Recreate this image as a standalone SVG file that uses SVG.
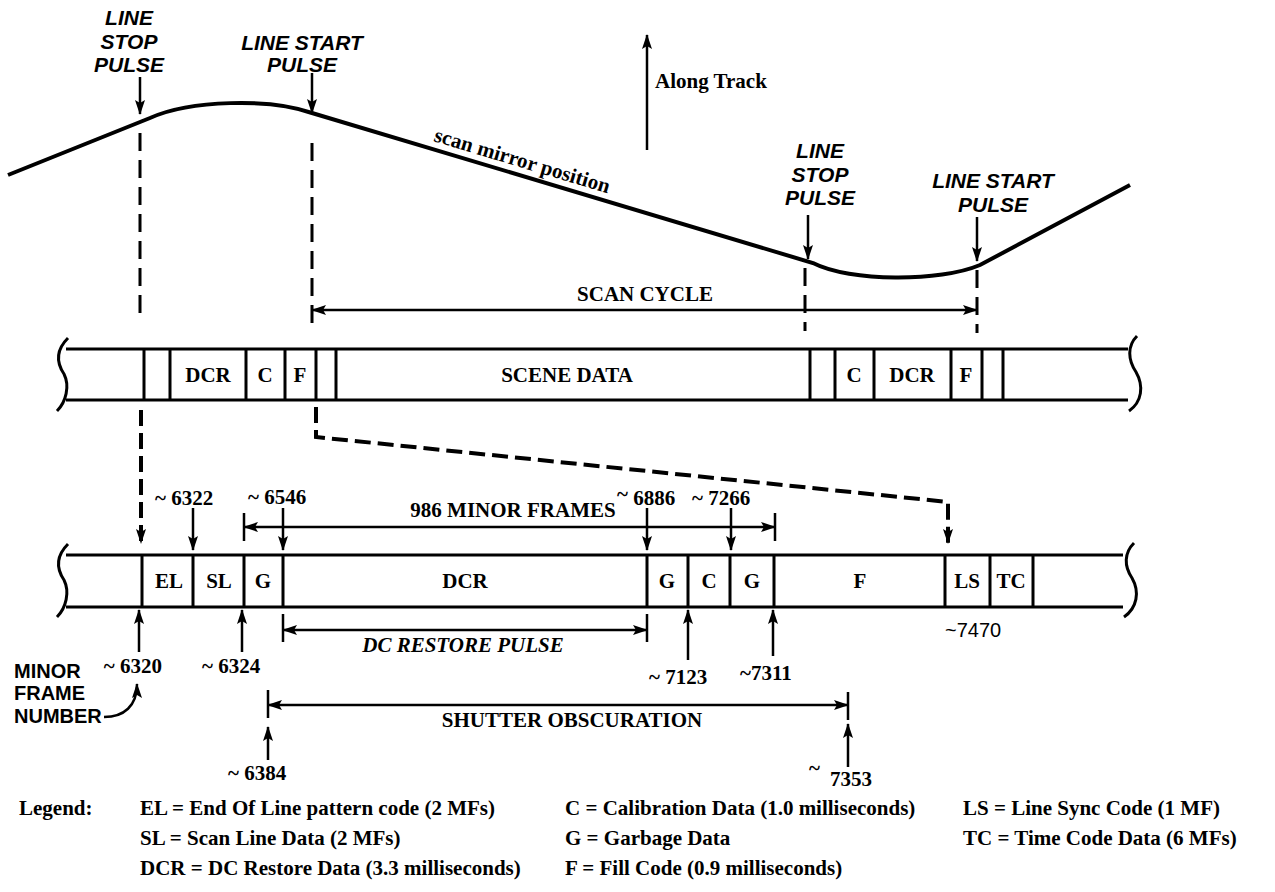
<svg xmlns="http://www.w3.org/2000/svg" width="1275" height="892" viewBox="0 0 1275 892">
<defs>
<style>
.s{stroke:#000;fill:none;stroke-width:3}
.c{stroke:#000;fill:none;stroke-width:4}
.a{stroke:#000;fill:none;stroke-width:2.5;marker-end:url(#ah)}
.b{stroke:#000;fill:none;stroke-width:2.5;marker-start:url(#ah);marker-end:url(#ah)}
.k{stroke:#000;fill:none;stroke-width:2.5}
.d{stroke:#000;fill:none;stroke-width:3;stroke-dasharray:18 9}
.dt{stroke:#000;fill:none;stroke-width:4;stroke-dasharray:16 7}
.t{font-family:"Liberation Serif","Times New Roman",serif;font-weight:bold;font-size:21px;fill:#000}
.lg{font-family:"Liberation Serif","Times New Roman",serif;font-weight:bold;font-size:21px;fill:#000}
.m{text-anchor:middle}
.e{text-anchor:end}
.h{font-family:"Liberation Sans",Arial,sans-serif;font-weight:bold;font-style:italic;font-size:21px;text-anchor:middle;fill:#000}
.n{font-family:"Liberation Sans",Arial,sans-serif;font-weight:bold;font-size:20px;fill:#000}
</style>
<marker id="ah" viewBox="0 0 15 10" refX="14" refY="5" markerWidth="15" markerHeight="10" markerUnits="userSpaceOnUse" orient="auto-start-reverse">
<path d="M0,0 L15,5 L0,10 L3,5 z" fill="#000"/>
</marker>
</defs>

<g id="mirror-curve">
<path class="c" d="M8,175 L150,118 C190,100 270,98 312,113 L813,263 C850,282 940,282 980,265 L1130,185"/>
<text class="t" transform="rotate(16.7 433 141)" x="433" y="141">scan mirror position</text>
</g>

<g id="along-track">
<line class="a" x1="647" y1="150" x2="647" y2="35"/>
<text class="t" x="655" y="88">Along Track</text>
</g>

<g id="line-stop-left">
<text class="h"><tspan x="129" y="25">LINE</tspan><tspan x="129" y="49">STOP</tspan><tspan x="129" y="72">PULSE</tspan></text>
<line class="a" x1="140" y1="77" x2="140" y2="114"/>
</g>
<g id="line-start-left">
<text class="h"><tspan x="302" y="50">LINE START</tspan><tspan x="302" y="72">PULSE</tspan></text>
<line class="a" x1="312" y1="73" x2="312" y2="113"/>
</g>
<g id="line-stop-right">
<text class="h"><tspan x="820" y="158">LINE</tspan><tspan x="820" y="182">STOP</tspan><tspan x="820" y="205">PULSE</tspan></text>
<line class="a" x1="808" y1="215" x2="808" y2="259"/>
</g>
<g id="line-start-right">
<text class="h"><tspan x="993" y="188">LINE START</tspan><tspan x="993" y="212">PULSE</tspan></text>
<line class="a" x1="977" y1="217" x2="977" y2="261"/>
</g>

<g id="strip1">
<path class="s" d="M66,349 H1128 M66,400 H1128"/>
<path class="s" d="M68,338 C56,350 56,362 64,374 C70,386 66,402 57,411"/>
<path class="s" d="M1137,336 C1127,346 1128,360 1136,372 C1144,386 1142,402 1129,411"/>
<path class="s" d="M144,349V400 M170,349V400 M246,349V400 M285,349V400 M316,349V400 M336,349V400 M810,349V400 M835,349V400 M874,349V400 M951,349V400 M982,349V400 M1003,349V400"/>
<g class="t m">
<text x="208" y="382">DCR</text>
<text x="265" y="382">C</text>
<text x="300" y="382">F</text>
<text x="567" y="382">SCENE DATA</text>
<text x="854" y="382">C</text>
<text x="912" y="382">DCR</text>
<text x="966" y="382">F</text>
</g>
</g>

<g id="strip2">
<path class="s" d="M66,555 H1123 M66,607 H1123"/>
<path class="s" d="M68,544 C56,556 56,568 64,580 C70,592 66,608 57,617"/>
<path class="s" d="M1134,543 C1124,553 1124,566 1132,578 C1140,592 1137,608 1124,617"/>
<path class="s" d="M142,555V607 M193,555V607 M244,555V607 M283,555V607 M647,555V607 M688,555V607 M730,555V607 M774,555V607 M945,555V607 M990,555V607 M1033,555V607"/>
<g class="t m">
<text x="169" y="588">EL</text>
<text x="219" y="588">SL</text>
<text x="263" y="588">G</text>
<text x="465" y="588">DCR</text>
<text x="667" y="588">G</text>
<text x="709" y="588">C</text>
<text x="752" y="588">G</text>
<text x="860" y="588">F</text>
<text x="967" y="588">LS</text>
<text x="1011" y="588">TC</text>
</g>
</g>

<g id="connectors">
<path class="d" d="M140,133 V318"/>
<path class="d" d="M312,143 V326"/>
<path class="d" d="M805,268 V331"/>
<path class="d" d="M977,270 V333"/>
<line class="b" x1="312" y1="310" x2="977" y2="310"/>
<path class="dt" d="M141,410 V543" marker-end="url(#ah)"/>
<path class="dt" d="M316,407 V437 L948,502 V543" marker-end="url(#ah)"/>

<line class="b" x1="244" y1="527" x2="775" y2="527"/>
<path class="k" d="M244,513 V541 M775,513 V541"/>
<line class="a" x1="193" y1="508" x2="193" y2="550"/>
<line class="a" x1="283" y1="508" x2="283" y2="550"/>
<line class="a" x1="647" y1="508" x2="647" y2="550"/>
<line class="a" x1="731" y1="508" x2="731" y2="550"/>

<line class="b" x1="283" y1="630" x2="647" y2="630"/>
<path class="k" d="M283,614 V642 M647,614 V642"/>
<line class="a" x1="139" y1="652" x2="139" y2="610"/>
<line class="a" x1="242" y1="652" x2="242" y2="610"/>
<line class="a" x1="688" y1="660" x2="688" y2="610"/>
<line class="a" x1="773" y1="656" x2="773" y2="610"/>

<line class="b" x1="268" y1="705" x2="848" y2="705"/>
<path class="k" d="M268,690 V718 M848,692 V720"/>
<line class="a" x1="268" y1="760" x2="268" y2="727"/>
<line class="a" x1="848" y1="767" x2="848" y2="724"/>

<path class="a" d="M104,717 C124,717 137,706 137,684"/>
</g>

<g id="labels">
<text class="t m" x="645" y="301">SCAN CYCLE</text>
<text class="t m" x="513" y="517">986 MINOR FRAMES</text>
<text class="t" x="155" y="505">~ 6322</text>
<text class="t" x="248" y="504">~ 6546</text>
<text class="t" x="617" y="505"><tspan dy="-4">~</tspan><tspan dy="4"> 6886</tspan></text>
<text class="t" x="692" y="505">~ 7266</text>
<text class="t e" x="162" y="673">~ 6320</text>
<text class="t" x="202" y="673">~ 6324</text>
<text class="t m" x="463" y="652" font-style="italic">DC RESTORE PULSE</text>
<text class="t" x="649" y="684">~ 7123</text>
<text class="t" x="740" y="680">~7311</text>
<text x="945" y="637" font-family="Liberation Sans, Arial, sans-serif" font-size="20" fill="#000">~7470</text>
<text class="n"><tspan x="14" y="678">MINOR</tspan><tspan x="14" y="700">FRAME</tspan><tspan x="14" y="723">NUMBER</tspan></text>
<text class="t m" x="572" y="727">SHUTTER OBSCURATION</text>
<text class="t" x="228" y="780">~ 6384</text>
<text class="t" x="809" y="775">~<tspan x="830" y="786">7353</tspan></text>
</g>

<g id="legend" class="lg">
<text x="19" y="815">Legend:</text>
<text x="140" y="815">EL = End Of Line pattern code (2 MFs)</text>
<text x="140" y="845">SL = Scan Line Data (2 MFs)</text>
<text x="140" y="875">DCR = DC Restore Data (3.3 milliseconds)</text>
<text x="565" y="815">C = Calibration Data (1.0 milliseconds)</text>
<text x="565" y="845">G = Garbage Data</text>
<text x="565" y="875">F = Fill Code (0.9 milliseconds)</text>
<text x="963" y="815">LS = Line Sync Code (1 MF)</text>
<text x="963" y="845">TC = Time Code Data (6 MFs)</text>
</g>
</svg>
